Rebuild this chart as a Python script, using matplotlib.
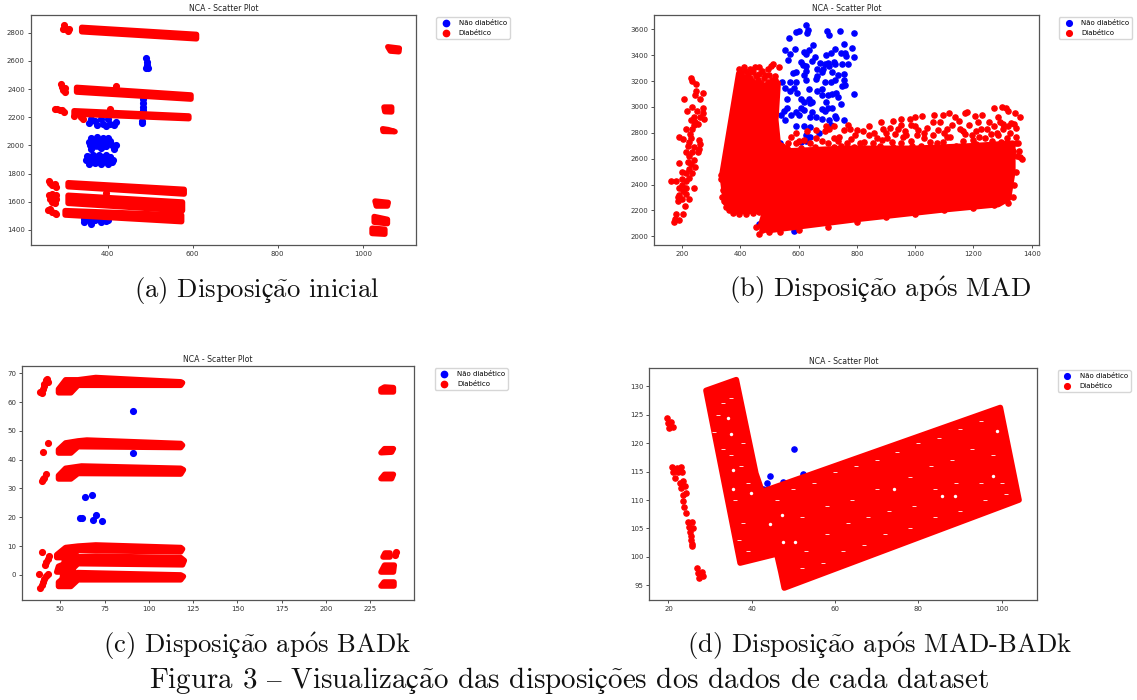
import matplotlib
matplotlib.use('Agg')
from matplotlib import pyplot as plt

plt.rcParams['mathtext.fontset'] = 'cm'

W, H = 1137, 700
BLUE = '#0000ff'
RED = '#ff0000'

# (a) Disposicao inicial
a_blue = [(490, 2620), (492, 2595), (493, 2570), (495, 2550), (490, 2552), (482, 2330), (483, 2300), (482, 2270),
          (484, 2250), (480, 2175), (480, 2160), (362, 2190), (370, 2170), (355, 2160), (375, 2145), (390, 2155),
          (395, 2135), (405, 2150), (415, 2145), (400, 2190), (385, 2190), (420, 2165), (360, 2055), (375, 2060),
          (390, 2055), (400, 2050), (355, 2025), (370, 2030), (385, 2020), (405, 2030), (358, 2000), (375, 2005),
          (395, 1995), (410, 2005), (420, 2000), (360, 1975), (385, 1985), (415, 1975), (352, 1925), (365, 1935),
          (380, 1930), (395, 1935), (405, 1920), (350, 1895), (365, 1900), (380, 1895), (395, 1900), (412, 1895),
          (355, 1870), (370, 1875), (385, 1870), (400, 1865), (410, 1880), (345, 1480), (345, 1455), (355, 1470),
          (362, 1440), (370, 1470), (380, 1480), (385, 1455), (395, 1465), (400, 1470)]
a_blue_masses = [
    [(357, 1878), (408, 1878), (408, 1918), (357, 1922)],
    [(364, 1990), (396, 1990), (396, 2040), (366, 2040)],
]
a_red = [(297, 2852), (299, 2835), (302, 2825), (306, 2815), (309, 2830), (296, 2825), (291, 2435), (292, 2412),
         (296, 2395), (300, 2382), (300, 2405), (276, 2262), (282, 2260), (288, 2255), (293, 2248), (298, 2240),
         (321, 2208), (337, 2205), (343, 2185), (261, 1745), (265, 1730), (270, 1720), (276, 1725), (278, 1705),
         (262, 1650), (270, 1652), (278, 1645), (265, 1620), (272, 1610), (278, 1620), (268, 1595), (276, 1590),
         (259, 1540), (265, 1548), (269, 1525), (275, 1518), (279, 1510), (420, 2425), (395, 1665), (405, 2260)]
a_masses = [
    [(339, 2838), (609, 2788), (609, 2757), (339, 2807)],
    [(327, 2412), (596, 2358), (596, 2329), (327, 2379)],
    [(321, 2246), (591, 2209), (591, 2190), (321, 2223)],
    [(307, 1735), (580, 1688), (580, 1655), (307, 1707)],
    [(307, 1646), (576, 1598), (576, 1537), (307, 1589)],
    [(300, 1537), (574, 1506), (574, 1459), (300, 1506)],
    [(1059, 2700), (1086, 2690), (1085, 2665), (1065, 2670)],
    [(1050, 2272), (1068, 2272), (1068, 2238), (1052, 2240)],
    [(1047, 2118), (1060, 2112), (1076, 2098), (1048, 2100)],
    [(1029, 1605), (1060, 1595), (1058, 1570), (1032, 1570)],
    [(1027, 1495), (1058, 1475), (1058, 1445), (1027, 1455)],
    [(1022, 1412), (1052, 1405), (1052, 1370), (1022, 1375)],
]

# (b) Disposicao apos MAD
b_blue = [(627, 3635), (590, 3580), (600, 3590), (632, 3595), (630, 3575), (697, 3590), (705, 3555), (743, 3590),
          (790, 3575), (567, 3530), (650, 3480), (757, 3490), (785, 3455), (725, 3450), (553, 3440), (588, 3445),
          (570, 3410), (620, 3425), (635, 3440), (625, 3410), (655, 3385), (695, 3405), (712, 3420), (745, 3420),
          (758, 3420), (762, 3390), (790, 3385), (565, 3360), (610, 3350), (645, 3355), (675, 3340), (690, 3330),
          (700, 3340), (720, 3345), (725, 3330), (750, 3335), (770, 3330), (615, 3325), (625, 3320), (665, 3290),
          (685, 3290), (705, 3320), (680, 3270), (625, 3275), (590, 3270), (580, 3260), (620, 3250), (715, 3270),
          (735, 3250), (755, 3255), (665, 3240), (660, 3215), (690, 3195), (710, 3195), (725, 3210), (755, 3210),
          (750, 3165), (760, 3170), (570, 3190), (590, 3195), (625, 3205), (545, 3190), (555, 3150), (585, 3150),
          (635, 3135), (665, 3125), (680, 3135), (570, 3125), (595, 3110), (700, 3090), (715, 3100), (730, 3105),
          (735, 3075), (790, 3100), (680, 3095), (560, 3060), (610, 3060), (635, 3065), (620, 3035), (640, 3030),
          (645, 3040), (695, 3035), (745, 3025), (680, 2985), (690, 2970), (700, 2995), (715, 2990), (610, 2990),
          (620, 2975), (645, 2960), (590, 2960), (600, 2940), (575, 2940), (640, 2925), (660, 2920), (680, 2910),
          (705, 2895), (725, 2930), (730, 2915), (755, 2895), (550, 2970), (560, 2990), (540, 2935), (555, 2895),
          (590, 2855), (620, 2850), (640, 2845), (710, 2860), (625, 2780), (625, 2735), (610, 2730), (535, 2720),
          (465, 2095), (585, 2040), (640, 2770), (670, 2800)]
b_red = [(230, 3220), (236, 3200), (248, 3177), (250, 3125), (245, 3090), (272, 3105), (263, 3062), (208, 3062),
         (234, 2997), (272, 2990), (216, 2965), (252, 2972), (272, 2950), (240, 2925), (262, 2920), (232, 2900),
         (275, 2905), (245, 2885), (255, 2865), (240, 2860), (215, 2830), (235, 2830), (228, 2790), (190, 2765),
         (205, 2750), (232, 2760), (260, 2745), (225, 2725), (262, 2715), (220, 2700), (240, 2690), (258, 2675),
         (215, 2650), (235, 2650), (255, 2650), (225, 2620), (240, 2590), (190, 2570), (222, 2575), (230, 2560),
         (245, 2535), (225, 2520), (200, 2495), (215, 2490), (235, 2490), (200, 2440), (215, 2430), (225, 2450),
         (163, 2425), (180, 2430), (200, 2395), (215, 2375), (190, 2370), (240, 2370), (205, 2350), (190, 2320),
         (215, 2330), (185, 2300), (200, 2290), (225, 2290), (185, 2270), (210, 2235), (205, 2170), (180, 2170),
         (190, 2125), (172, 2112), (175, 2135), (395, 3290), (412, 3305), (432, 3290), (450, 3308), (465, 3308),
         (494, 3290), (506, 3315), (514, 3328), (533, 3310), (500, 3245), (520, 3240), (465, 3258), (433, 3220),
         (460, 3205), (883, 2886), (924, 2894), (953, 2905), (983, 2905), (1000, 2920), (1024, 2930), (1065, 2938),
         (1094, 2938), (1115, 2950), (1135, 2925), (1171, 2950), (1177, 2963), (1206, 2930), (1230, 2938),
         (1271, 2990), (1297, 3000), (1312, 2990), (1341, 2950), (1359, 2925), (1318, 2965), (1253, 2887),
         (1283, 2920), (1330, 2875), (1347, 2835), (1353, 2720), (1365, 2595), (840, 2850), (800, 2825), (770, 2860),
         (755, 2820), (720, 2850), (695, 2855), (660, 2825), (630, 2810), (590, 2800), (575, 2770), (565, 2720),
         (560, 2680), (545, 2700), (600, 2740), (640, 2720), (680, 2740), (720, 2760), (745, 2700), (780, 2750),
         (810, 2720), (840, 2780), (870, 2760), (890, 2830), (905, 2760), (930, 2790), (950, 2720), (965, 2810),
         (985, 2860), (1005, 2780), (1020, 2700), (1040, 2840), (1060, 2780), (1075, 2720), (1085, 2880),
         (1100, 2800), (1120, 2770), (1140, 2700), (1155, 2830), (1165, 2740), (1185, 2860), (1195, 2780),
         (1210, 2710), (1225, 2830), (1240, 2760), (1255, 2700), (1270, 2850), (1285, 2780), (1300, 2830),
         (1315, 2760), (1330, 2710), (1345, 2770), (1355, 2660), (1360, 2610), (1290, 2880), (1215, 2880),
         (1150, 2890), (1060, 2880), (1000, 2850), (950, 2860), (915, 2840), (880, 2700), (1070, 2660), (1180, 2670),
         # top of the tall arm
         (400, 3270), (415, 3280), (425, 3255), (445, 3270), (455, 3240), (475, 3280), (485, 3250), (480, 3225),
         (510, 3210), (495, 3195), (520, 3205), (440, 3200), (415, 3225), (405, 3200), (470, 3185), (450, 3170),
         # rough lower edge
         (345, 2270), (350, 2230), (360, 2200), (375, 2180), (395, 2175), (420, 2170), (445, 2180), (465, 2190),
         (335, 2475), (335, 2440), (345, 2400), (342, 2355), (338, 2300), (465, 2020), (455, 2070), (475, 2050),
         (500, 2030), (535, 2030), (600, 2050), (700, 2075), (800, 2110), (900, 2150), (1000, 2175), (1100, 2200),
         (1200, 2220), (1270, 2240), (1320, 2260), (1335, 2300), (1340, 2400), (1345, 2500),
         # loose region above the solid part
         (575, 2650), (610, 2680), (625, 2660), (655, 2690), (700, 2670), (720, 2690), (760, 2670), (790, 2690),
         (825, 2680), (855, 2660), (895, 2670), (925, 2690), (975, 2670), (990, 2700), (1040, 2680), (1055, 2660),
         (1095, 2690), (1125, 2660), (1150, 2670), (1205, 2670), (1230, 2690), (1280, 2690), (1300, 2680),
         (1335, 2660), (1350, 2620), (1295, 2730), (590, 2720), (620, 2745), (660, 2760), (700, 2720), (735, 2735),
         (765, 2720), (795, 2780), (825, 2730), (855, 2720), (885, 2745), (920, 2725), (960, 2770), (985, 2740),
         (1030, 2760), (1050, 2730), (1095, 2725), (1110, 2770), (1170, 2790), (1200, 2745), (1220, 2770),
         (1265, 2740), (1310, 2720), (1280, 2800), (1325, 2800), (1345, 2720), (740, 2770), (690, 2810), (705, 2830),
         (775, 2830), (820, 2810), (860, 2800), (900, 2800), (940, 2830), (970, 2780), (1010, 2820), (1030, 2800),
         (1080, 2820), (1110, 2830), (1125, 2860), (1165, 2810), (1210, 2810), (1245, 2830), (1260, 2790),
         (1300, 2870), (1320, 2850), (1340, 2870)]
b_masses = [
    [(338, 2487), (395, 3260), (420, 3220), (470, 3160), (530, 3185), (522, 2900), (530, 2720), (566, 2660),
     (760, 2680), (1000, 2680), (1200, 2700), (1335, 2720), (1335, 2500), (1320, 2290), (1285, 2245), (1100, 2205),
     (800, 2130), (500, 2045), (478, 2050), (470, 2085), (485, 2195), (380, 2190), (350, 2255), (342, 2400)],
]

# (c) Disposicao apos BADk
c_blue = [(91, 57), (91, 42.2), (64, 27), (68, 27.7), (61, 19.8), (62, 19.7), (70, 20.7), (68.5, 19), (73.5, 18.6)]
c_red = [(38.8, 63.5), (39.5, 63), (40, 64.5), (41, 65.5), (41, 66.2), (42, 67.5), (42.5, 68), (42.8, 66.8),
         (43, 45.7), (40.5, 42.7), (39.5, 32.5), (40.2, 33.2), (41, 33.8), (41.7, 35), (39.5, 8), (41.5, 3.5),
         (42, 4.6), (42.8, 5.5), (43.5, 6.5), (38, 0.3), (38.5, -4.5), (39.5, -3.5), (40.2, -2.5), (41, -1.5),
         (42, -0.3), (42.8, 0.3), (239.5, 7.8), (239, 6.8)]
c_masses = [
    [(49, 63.2), (56, 63.2), (60, 65.8), (118, 65.8), (119, 66.7), (118, 67), (70, 68.5), (60, 67.7), (53, 67.7),
     (49, 64.5)],
    [(49, 42.3), (56, 42.3), (60, 44.5), (118, 44.2), (119, 45), (118, 45.6), (65, 46.8), (60, 46.5), (53, 45.8),
     (49, 43.5)],
    [(49, 33.3), (56, 33.3), (60, 35.2), (118, 35), (119.5, 36.5), (118, 37), (62, 37.8), (53, 37), (49, 34.5)],
    [(48, 6), (56, 6), (60, 8.5), (118, 8), (119, 9), (118, 9.5), (70, 10.4), (60, 10), (53, 9.5), (48, 7)],
    [(48, 1), (55, 1), (60, 3.9), (119, 3.5), (120, 5), (118, 6), (70, 6.5), (60, 6.3), (53, 4), (49, 3)],
    [(49, -4), (56, -4), (60, -1.7), (118, -1.7), (119.5, -0.5), (118, 0), (60, 0.8), (53, 0), (52, -1), (49, -2.5)],
    [(51, -2), (57, -2), (58, 8), (53, 9)],
    [(231, 63.5), (238, 63.5), (238, 65), (233, 65.2), (231, 64.5)],
    [(231, 42.4), (237, 42.6), (238, 43.8), (233, 43.8)],
    [(231, 33.4), (237, 33.4), (238, 34.9), (233, 34.9)],
    [(232, 6.2), (236, 6.2), (236, 7.7), (233, 7.7)],
    [(231, 1), (238, 1), (238.5, 3.4), (233, 3.4)],
    [(231, -4), (238.5, -4), (238.5, -2.4), (232.5, -2.4)],
]

# (d) Disposicao apos MAD-BADk
d_blue = [(50.2, 119), (52.3, 114.5), (44.3, 114.2), (47.4, 113.2), (43.6, 113), (43.6, 112), (42.6, 111.9)]
d_red = [(19.6, 124.5), (20, 123.5), (20.2, 122.7), (20.7, 123.8), (21, 122.8), (20.9, 115.9), (21, 114.9),
         (21.5, 113.9), (22, 115.6), (22.3, 114.9), (23, 115.9), (23.2, 115), (22.8, 113), (23.1, 112.2),
         (23.6, 113.3), (24, 112.5), (24.2, 111.3), (23.4, 110.9), (23.6, 109.8), (23.8, 108.7), (24.1, 107.8),
         (24.6, 106.2), (25.6, 106.2), (25, 105.2), (25.9, 105.1), (25.2, 104.4), (25.3, 103.7), (25.5, 103),
         (25.6, 102.2), (25.7, 101.9), (26.8, 98), (27.1, 97.2), (28, 97.3), (27.3, 96.2), (28.2, 96.6)]
d_masses = [
    [(29, 129.3), (36.3, 131.2), (41, 114.7), (42.5, 111.5), (99.7, 126.3), (104.2, 110), (47.8, 94.5), (47, 97.3),
     (46, 100.5), (37.2, 98.9)],
]
d_holes = [(34.2, 124.5), (34.9, 121.7), (35.6, 115.3), (35.5, 112), (39.8, 111.3), (44.4, 105.7), (47.2, 107.4),
           (47.4, 102.6), (50.5, 102.6), (74.2, 112), (85.7, 110.7), (88.8, 110.7), (98, 114.3), (98.9, 122.2)]
d_gaps = [(32, 125), (33, 127), (35, 128), (31, 122), (33, 119), (35, 118), (36, 110), (38, 106), (37, 103),
          (39, 101), (37.5, 116), (39, 113), (38, 120), (46, 110), (50, 112), (55, 113), (60, 115), (65, 116),
          (70, 117), (75, 118.5), (80, 120), (85, 121), (90, 122.5), (95, 124), (52, 107), (58, 109), (64, 110),
          (70, 112), (78, 114), (83, 116), (88, 117), (93, 119), (98, 118), (53, 101), (58, 104), (63, 106),
          (68, 107), (73, 108), (79, 109), (84, 112), (89, 113), (95, 113), (100, 113), (52, 98), (57, 99),
          (62, 101), (67, 102), (72, 104), (78, 105), (84, 107), (90, 108), (96, 110), (101, 111)]


def draw_panel(fig, box, xlim, ylim, xticks, yticks, blue, red, masses, size):
    left, top, right, bottom = box
    ax = fig.add_axes([left / W, 1 - bottom / H, (right - left) / W, (bottom - top) / H])
    ax.scatter(*zip(*blue), s=size, c=BLUE, label='Não diabético', zorder=2)
    ax.scatter(*zip(*red), s=size, c=RED, label='Diabético', zorder=3)
    for m in masses:
        ax.fill(*zip(*m), facecolor=RED, edgecolor=RED, linewidth=4, joinstyle='round', zorder=3)
    ax.set_xlim(xlim)
    ax.set_ylim(ylim)
    ax.set_xticks(xticks)
    ax.set_yticks(yticks)
    ax.tick_params(labelsize=5, length=2.2, width=0.6, pad=2, colors='#333333')
    for s in ax.spines.values():
        s.set_color('#555555')
        s.set_linewidth(0.9)
    ax.set_title('NCA - Scatter Plot', fontsize=5.6, pad=2.5, color='#222222')
    ax.legend(loc='upper left', bbox_to_anchor=(1.045, 1), fontsize=5, borderaxespad=0.4, markerscale=1.1)
    return ax


def caption(fig, x, y, text, size=19.2):
    fig.text(x / W, 1 - y / H, text, ha='center', va='center', fontsize=size, family=['cmr10', 'DejaVu Serif'],
             color='#111111')


fig = plt.figure(figsize=(W / 100, H / 100), dpi=100)

ax_a = draw_panel(fig, (30.7, 14.7, 416.3, 245.3), (219, 1126), (1291, 2928), [400, 600, 800, 1000],
                  [1400, 1600, 1800, 2000, 2200, 2400, 2600, 2800], a_blue, a_red, a_masses, 17)
for m in a_blue_masses:
    ax_a.fill(*zip(*m), facecolor=BLUE, edgecolor=BLUE, linewidth=4, joinstyle='round', zorder=2)
draw_panel(fig, (653.8, 14.7, 1038.7, 245.3), (103.6, 1423.7), (1930, 3713), [200, 400, 600, 800, 1000, 1200, 1400],
           [2000, 2200, 2400, 2600, 2800, 3000, 3200, 3400, 3600], b_blue, b_red, b_masses, 14)
draw_panel(fig, (22, 365.7, 414.3, 599.7), (28.4, 249.8), (-8.6, 72.6), [50, 75, 100, 125, 150, 175, 200, 225],
           [0, 10, 20, 30, 40, 50, 60, 70], c_blue, c_red, c_masses, 17)
ax_d = draw_panel(fig, (649.3, 367.7, 1037.4, 600), (15.4, 108.6), (92.4, 133.3), [20, 40, 60, 80, 100],
                  [95, 100, 105, 110, 115, 120, 125, 130], d_blue, d_red, d_masses, 14)
ax_d.scatter(*zip(*d_holes), s=6, c='white', linewidths=0, zorder=4)
ax_d.scatter(*zip(*d_gaps), s=5, c='white', marker='_', linewidths=0.6, zorder=4)

caption(fig, 257, 290, r'(a) Disposi$\mathrm{ç\~{a}}$o inicial')
caption(fig, 879.7, 290, r'(b) Disposi$\mathrm{ç\~{a}}$o ap$\mathrm{\'{o}}$s MAD')
caption(fig, 257, 646, r'(c) Disposi$\mathrm{ç\~{a}}$o ap$\mathrm{\'{o}}$s BADk')
caption(fig, 879.7, 646, r'(d) Disposi$\mathrm{ç\~{a}}$o ap$\mathrm{\'{o}}$s MAD-BADk')
caption(fig, 568.5, 680, r'Figura 3 $\mathrm{–}$ Visualiza$\mathrm{ç\~{a}}$o das disposi$\mathrm{ç\~{o}}$es dos dados de cada dataset', 20.9)

fig.savefig('out.png', dpi=100)
